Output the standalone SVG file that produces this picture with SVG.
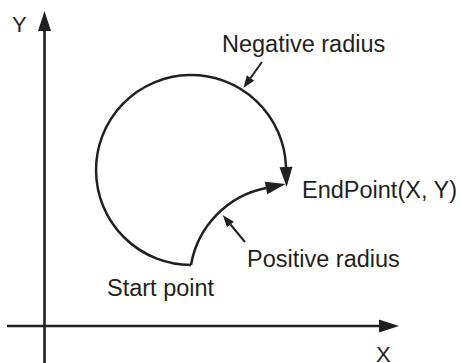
<svg xmlns="http://www.w3.org/2000/svg" width="460" height="363" viewBox="0 0 460 363">
<style>
.ln{fill:none;stroke:#231f20;stroke-width:2.5}
.ax{fill:none;stroke:#231f20;stroke-width:2.6}
.pt{fill:none;stroke:#231f20;stroke-width:2}
text{font-family:"Liberation Sans",Arial,sans-serif;font-size:23.5px;fill:#231f20}
</style>
<defs>
<marker id="big" markerUnits="userSpaceOnUse" markerWidth="24" markerHeight="16" refX="0" refY="0" orient="auto" overflow="visible">
<path d="M0,-6.5 L20,0 L0,6.5 z" fill="#231f20"/>
</marker>
<marker id="small" markerUnits="userSpaceOnUse" markerWidth="14" markerHeight="10" refX="0" refY="0" orient="auto" overflow="visible">
<path d="M0,-4.5 L12,0 L0,4.5 z" fill="#231f20"/>
</marker>
</defs>
<g id="axes">
<path class="ax" d="M44.5,363 L44.5,31" marker-end="url(#big)"/>
<path class="ax" d="M7,326 L379,326" marker-end="url(#big)"/>
<text x="12" y="32" style="font-size:22px">Y</text>
<text x="376" y="361.5" style="font-size:22px">X</text>
</g>
<g id="connectors">
<path id="negative-arc" class="ln" d="M191,265 A95,95 0 1 1 286,167" marker-end="url(#big)"/>
<path id="positive-arc" class="ln" d="M191,265 A95,95 0 0 1 266,188" marker-end="url(#big)"/>
<path class="pt" d="M262,62 L250.5,78" marker-end="url(#small)"/>
<path class="pt" d="M245,242 L230.5,224.5" marker-end="url(#small)"/>
</g>
<g id="label-negative"><text x="222" y="52">Negative radius</text></g>
<g id="label-endpoint"><text x="302" y="198">EndPoint(X, Y)</text></g>
<g id="label-positive"><text x="247" y="267">Positive radius</text></g>
<g id="label-start"><text x="107" y="296">Start point</text></g>
</svg>
